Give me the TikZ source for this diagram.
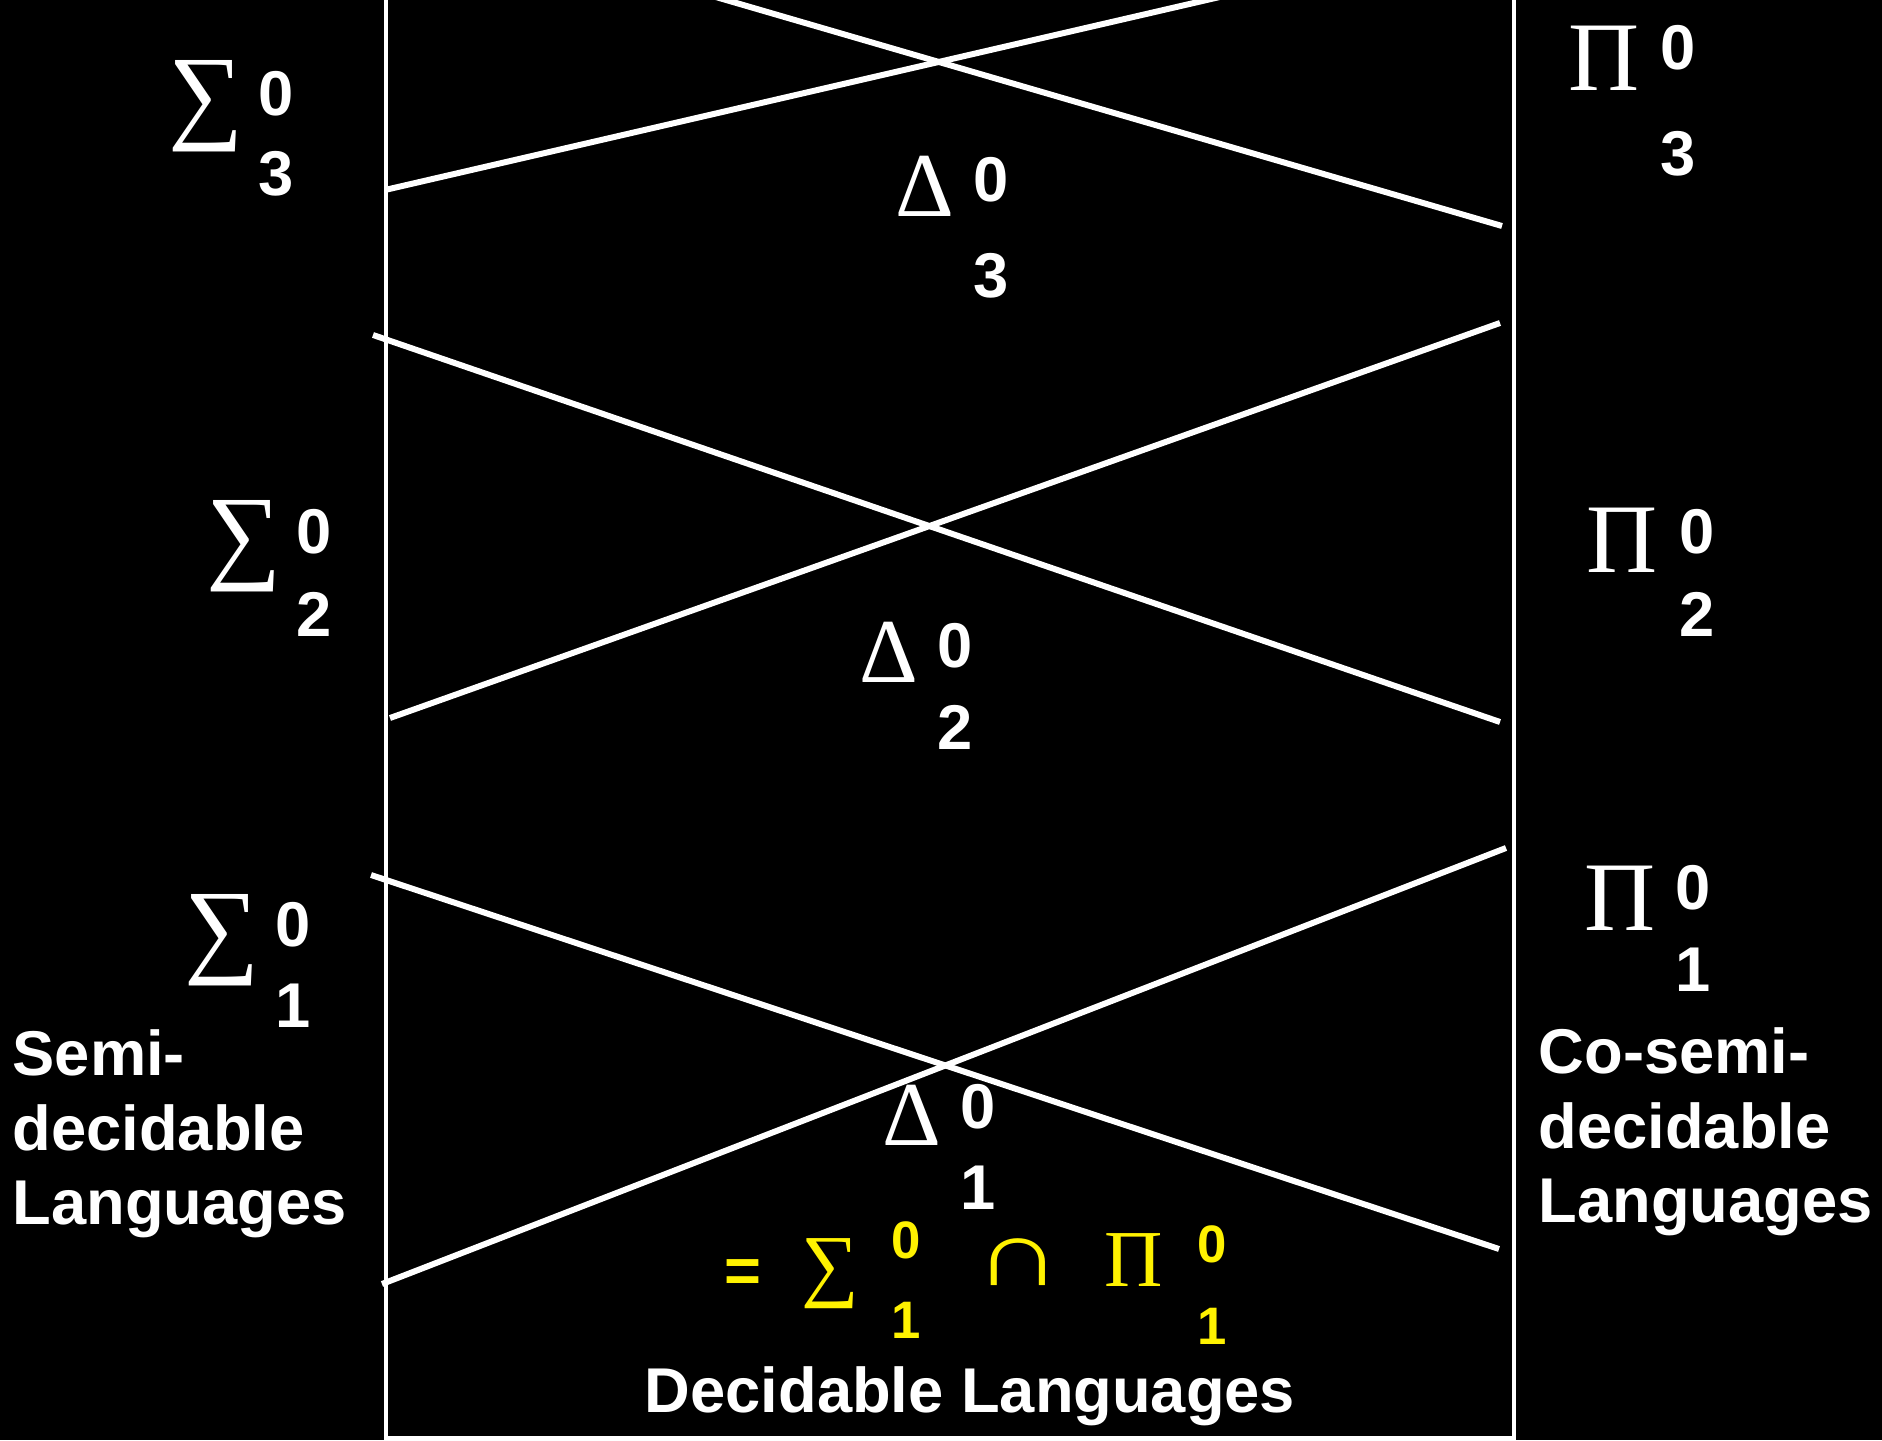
\documentclass[tikz,border=0pt]{standalone}
\usepackage{fontspec}
\setmainfont{Liberation Sans}
\newfontfamily\grkfont{Liberation Serif}
\usepackage{tikz}
\usetikzlibrary{positioning}

\begin{document}
\begin{tikzpicture}[
  lbl/.style={text=white, font=\fontsize{18}{21.2}\selectfont\bfseries, align=left, inner sep=0pt},
  idx/.style={text=white, font=\fontsize{18}{21}\selectfont\bfseries, inner sep=0pt},
  grk/.style={text=white, font=\fontsize{30}{32}\selectfont\grkfont, inner sep=0pt},
  prd/.style={grk, font=\fontsize{28}{30}\selectfont\grkfont},
  dlt/.style={grk, font=\fontsize{26}{28}\selectfont\grkfont},
  yidx/.style={idx, text=yellow, font=\fontsize{15}{17}\selectfont\bfseries},
  ygrk/.style={grk, text=yellow, font=\fontsize{23}{25}\selectfont\grkfont},
  wall/.style={draw=white, line width=1.4pt},
  cut/.style={draw=white, line width=1.7pt},
]
\fill[black] (0,0) rectangle (18.82,14.40);
\useasboundingbox (0,0) rectangle (18.82,14.40);
\clip (0,0) rectangle (18.82,14.40);

% frame of the hierarchy
\draw[wall] (3.86,14.6) -- (3.86,0.02) -- (15.14,0.02) -- (15.14,14.6);

% crossing lines
\draw[cut] (3.85,12.50) -- (12.50,14.50);
\draw[cut] (6.90,14.505) -- (15.02,12.14);
\draw[cut] (3.73,11.05) -- (15.00,7.18);
\draw[cut] (3.90,7.22) -- (15.00,11.17);
\draw[cut] (3.71,5.65) -- (14.99,1.91);
\draw[cut] (3.82,1.56) -- (15.06,5.92);

% level 3
\node[grk] (s3) at (2.06,13.34) {∑};
\node[idx] (s3u) at (2.76,13.46) {0};
\node[idx] (s3d) at (2.76,12.66) {3};
\node[prd] (p3) at (16.04,13.82) {Π};
\node[idx] (p3u) at (16.78,13.92) {0};
\node[idx] (p3d) at (16.78,12.86) {3};
\node[dlt] (d3) at (9.25,12.54) {Δ};
\node[idx] (d3u) at (9.91,12.60) {0};
\node[idx] (d3d) at (9.91,11.64) {3};

% level 2
\node[grk] (s2) at (2.44,8.94) {∑};
\node[idx] (s2u) at (3.14,9.08) {0};
\node[idx] (s2d) at (3.14,8.26) {2};
\node[prd] (p2) at (16.22,9.00) {Π};
\node[idx] (p2u) at (16.97,9.08) {0};
\node[idx] (p2d) at (16.97,8.26) {2};
\node[dlt] (d2) at (8.89,7.88) {Δ};
\node[idx] (d2u) at (9.55,7.94) {0};
\node[idx] (d2d) at (9.55,7.13) {2};

% level 1
\node[grk] (s1) at (2.22,5.00) {∑};
\node[idx] (s1u) at (2.93,5.15) {0};
\node[idx] (s1d) at (2.93,4.34) {1};
\node[prd] (p1) at (16.20,5.42) {Π};
\node[idx] (p1u) at (16.93,5.52) {0};
\node[idx] (p1d) at (16.93,4.70) {1};
\node[dlt] (d1) at (9.12,3.25) {Δ};
\node[idx] (d1u) at (9.78,3.33) {0};
\node[idx] (d1d) at (9.78,2.52) {1};

% decidable = intersection
\node[idx, text=yellow] (eq) at (7.43,1.64) {=};
\node[ygrk] (ys) at (8.30,1.66) {∑};
\node[yidx] (ysu) at (9.06,2.00) {0};
\node[yidx] (ysd) at (9.06,1.20) {1};
\node[ygrk] (cap) at (10.18,1.78) {\scalebox{1.5}[1.15]{∩}};
\node[ygrk] (yp) at (11.34,1.80) {Π};
\node[yidx] (ypu) at (12.12,1.96) {0};
\node[yidx] (ypd) at (12.12,1.14) {1};

\node[lbl] (dec) at (9.70,0.44) {Decidable Languages};
\node[lbl, anchor=west] (semi) at (0.12,3.06) {Semi-\\decidable\\Languages};
\node[lbl, anchor=west] (cosemi) at (15.38,3.08) {Co-semi-\\decidable\\Languages};
\end{tikzpicture}
\end{document}
